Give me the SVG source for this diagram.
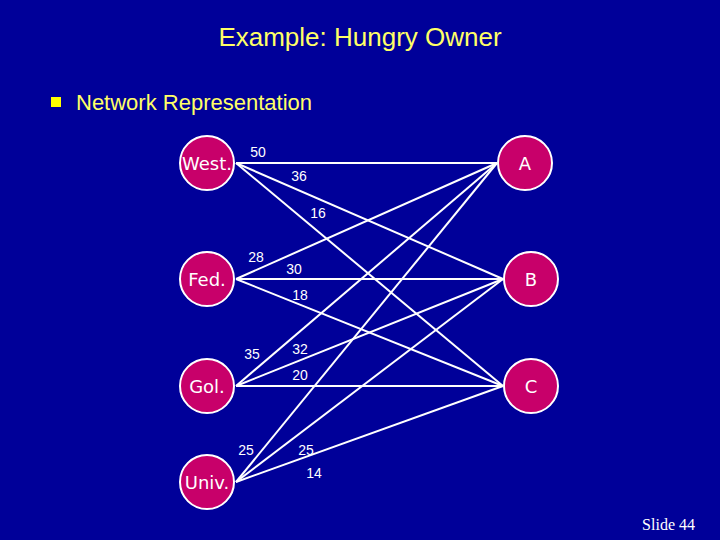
<svg xmlns="http://www.w3.org/2000/svg" width="720" height="540" viewBox="0 0 720 540">
<style>
.t{font-family:"Liberation Sans",Arial,sans-serif;fill:#FFFF66}
.n circle{fill:#C8006A;stroke:#fff;stroke-width:2}
.n text{font-family:"DejaVu Sans",Verdana,sans-serif;font-size:18px;fill:#fff;text-anchor:middle}
.e line{stroke:#fff;stroke-width:2}
.l{font-family:"Liberation Sans",Arial,sans-serif;font-size:14px;fill:#fff;text-anchor:middle}
</style>
<rect width="720" height="540" fill="#000099"/>
<text class="t" x="360" y="46" font-size="26" text-anchor="middle">Example:  Hungry Owner</text>
<rect x="51" y="97" width="10" height="10" fill="#FFFF00"/>
<text class="t" x="76" y="110" font-size="22">Network Representation</text>
<g id="connectors" class="e">
<line x1="236" y1="163" x2="497" y2="163"/><line x1="236" y1="163" x2="503" y2="279"/><line x1="236" y1="163" x2="503" y2="386"/>
<line x1="236" y1="279" x2="497" y2="163"/><line x1="236" y1="279" x2="503" y2="279"/><line x1="236" y1="279" x2="503" y2="386"/>
<line x1="236" y1="386" x2="497" y2="163"/><line x1="236" y1="386" x2="503" y2="279"/><line x1="236" y1="386" x2="503" y2="386"/>
<line x1="236" y1="482" x2="497" y2="163"/><line x1="236" y1="482" x2="503" y2="279"/><line x1="236" y1="482" x2="503" y2="386"/>
</g>
<g id="labels">
<text class="l" x="258" y="157">50</text><text class="l" x="299" y="181">36</text><text class="l" x="318" y="218">16</text>
<text class="l" x="256" y="262">28</text><text class="l" x="294" y="274">30</text><text class="l" x="300" y="300">18</text>
<text class="l" x="252" y="359">35</text><text class="l" x="300" y="354">32</text><text class="l" x="300" y="380">20</text>
<text class="l" x="246" y="455">25</text><text class="l" x="306" y="455">25</text><text class="l" x="314" y="478">14</text>
</g>
<g id="West" class="n"><circle cx="207" cy="163" r="27"/><text x="207" y="170">West.</text></g>
<g id="Fed" class="n"><circle cx="207" cy="279" r="27"/><text x="207" y="286">Fed.</text></g>
<g id="Gol" class="n"><circle cx="207" cy="386" r="27"/><text x="207" y="393">Gol.</text></g>
<g id="Univ" class="n"><circle cx="207" cy="482" r="27"/><text x="207" y="489">Univ.</text></g>
<g id="A" class="n"><circle cx="525" cy="163" r="27"/><text x="525" y="170">A</text></g>
<g id="B" class="n"><circle cx="531" cy="279" r="27"/><text x="531" y="286">B</text></g>
<g id="C" class="n"><circle cx="531" cy="386" r="27"/><text x="531" y="393">C</text></g>
<text x="695" y="530" font-family="Liberation Serif,serif" font-size="16" fill="#fff" text-anchor="end">Slide  44</text>
</svg>
